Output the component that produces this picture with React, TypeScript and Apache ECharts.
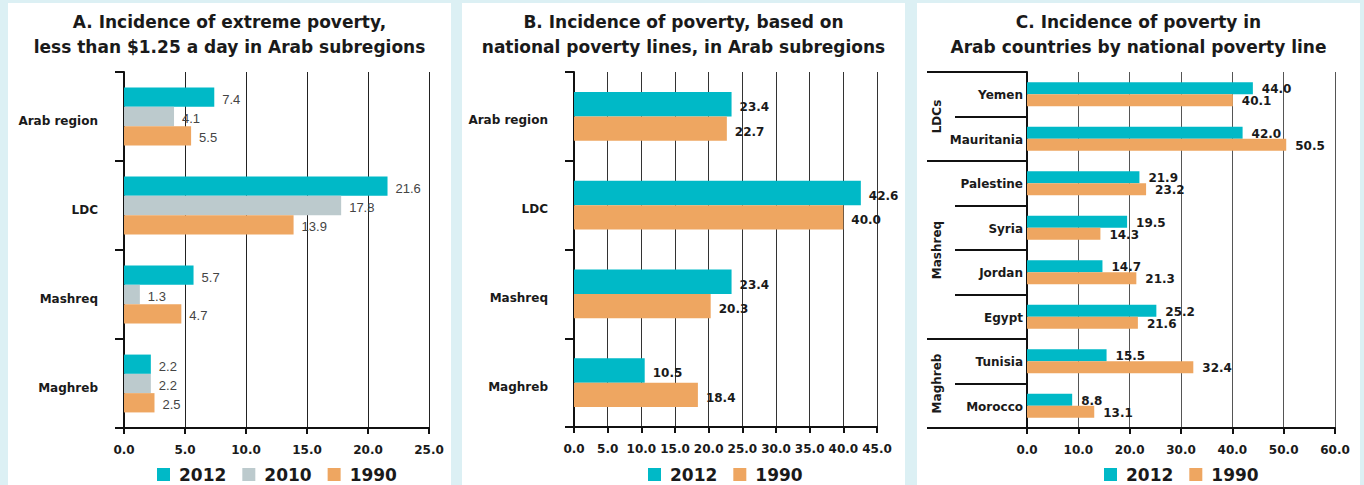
import React, { useEffect, useRef } from "react";
import * as echarts from "echarts";

// ---------- data ----------
const seriesNames = ["2012", "2010", "1990"];

const catsA = ["Arab region", "LDC", "Mashreq", "Maghreb"];
const a2012 = [7.4, 21.6, 5.7, 2.2];
const a2010 = [4.1, 17.8, 1.3, 2.2];
const a1990 = [5.5, 13.9, 4.7, 2.5];
const ticksA = { max: 25, step: 5 };

const catsB = ["Arab region", "LDC", "Mashreq", "Maghreb"];
const b2012 = [23.4, 42.6, 23.4, 10.5];
const b1990 = [22.7, 40.0, 20.3, 18.4];
const ticksB = { max: 45, step: 5 };

const catsC = ["Yemen", "Mauritania", "Palestine", "Syria", "Jordan", "Egypt", "Tunisia", "Morocco"];
const c2012 = [44.0, 42.0, 21.9, 19.5, 14.7, 25.2, 15.5, 8.8];
const c1990 = [40.1, 50.5, 23.2, 14.3, 21.3, 21.6, 32.4, 13.1];
const groupNamesC = ["LDCs", "Mashreq", "Maghreb"];
const groupSizesC = [2, 4, 2];
const ticksC = { max: 60, step: 10 };

const titles = [
  "A. Incidence of extreme poverty,\nless than $1.25 a day in Arab subregions",
  "B. Incidence of poverty, based on\nnational poverty lines, in Arab subregions",
  "C. Incidence of poverty in\nArab countries by national poverty line",
];

// ---------- style ----------
const FONT = "DejaVu Sans, Verdana, sans-serif";
const NARROW = "Liberation Sans Narrow, Arial Narrow, sans-serif";
const TEAL = "#00b9c7";
const GRAY = "#bccacd";
const ORANGE = "#eea661";
const INK = "#1a1a1a";
const colorOf: Record<string, string> = { "2012": TEAL, "2010": GRAY, "1990": ORANGE };

const W = 1364;
const H = 485;
const panels = [
  { x: 8, w: 443, cx: 229.5 },
  { x: 462, w: 443, cx: 683.5 },
  { x: 917, w: 443, cx: 1138.5 },
];
const grids = [
  { left: 124, top: 72, width: 305, height: 356 },
  { left: 574, top: 72, width: 303, height: 355 },
  { left: 1027, top: 72, width: 308, height: 356 },
];
const legendLefts = [157, 648, 1104];

export default function App() {
  const ref = useRef<HTMLDivElement>(null);

  useEffect(() => {
    if (!ref.current) return;
    const chart = echarts.init(ref.current, null, { renderer: "svg" });

    const catText = { fontFamily: FONT, fontWeight: "bold", fontSize: 12, color: INK };

    const yAxisBase = (gi: number, data: string[], tickLen: number, margin: number, padTop: number) => ({
      type: "category",
      gridIndex: gi,
      data,
      inverse: true,
      axisLine: { show: true, lineStyle: { color: "#111", width: 2 } },
      axisTick: { show: true, length: tickLen, lineStyle: { color: "#111", width: 2 } },
      axisLabel: {
        margin,
        ...catText,
        formatter: (v: string) => `{c|${v}}`,
        rich: { c: { ...catText, padding: [padTop, 0, 0, 0] } },
      },
      splitLine: { show: false },
    });

    const xAxisBase = (gi: number, t: { max: number; step: number }, gridColor: string) => ({
      type: "value",
      gridIndex: gi,
      min: 0,
      max: t.max,
      interval: t.step,
      axisLine: { show: true, onZero: false, lineStyle: { color: "#111", width: 2 } },
      axisTick: { show: true, length: 6, lineStyle: { color: "#111", width: 2 } },
      splitLine: { show: true, lineStyle: { color: gridColor, width: 1 } },
      axisLabel: {
        margin: 16,
        fontFamily: FONT,
        fontWeight: "bold",
        fontSize: 12,
        color: INK,
        formatter: (v: number) => v.toFixed(1),
      },
    });

    const fmt = (p: any) => Number(p.value).toFixed(1);

    const barSeries = (name: string, data: number[], gi: number, gap: string, label: any) => ({
      type: "bar",
      name,
      data,
      xAxisIndex: gi,
      yAxisIndex: gi,
      barGap: "0%",
      barCategoryGap: gap,
      itemStyle: { color: colorOf[name] },
      label: { show: true, position: "right", formatter: fmt, ...label },
    });

    const labelA = { distance: 8, offset: [0, 2], fontFamily: NARROW, fontSize: 13, color: "#444" };
    const labelB = { distance: 8, offset: [0, 3], fontFamily: FONT, fontWeight: "bold", fontSize: 12, color: INK };
    const labelC = { distance: 9, offset: [0, 1], fontFamily: FONT, fontWeight: "bold", fontSize: 12, color: INK };

    // panel C group decorations derived from grid layout
    const gC = grids[2];
    const bandC = gC.height / catsC.length;
    const bounds: number[] = [0];
    groupSizesC.forEach((s) => bounds.push(bounds[bounds.length - 1] + s));
    const groupGraphics: any[] = [];
    bounds.forEach((b) => {
      const y = gC.top + b * bandC;
      groupGraphics.push({
        type: "line",
        silent: true,
        shape: { x1: 927, y1: y, x2: gC.left, y2: y },
        style: { stroke: "#111", lineWidth: 2 },
        z: 10,
      });
    });
    groupNamesC.forEach((name, i) => {
      const yMid = gC.top + ((bounds[i] + bounds[i + 1]) / 2) * bandC;
      groupGraphics.push({
        type: "text",
        silent: true,
        x: 937,
        y: yMid,
        rotation: Math.PI / 2,
        style: {
          text: name,
          fontFamily: FONT,
          fontWeight: "bold",
          fontSize: 12,
          fill: INK,
          textAlign: "center",
          textVerticalAlign: "middle",
        },
        z: 10,
      });
    });

    const option: any = {
      animation: false,
      backgroundColor: "#dcf0f4",
      title: titles.map((t, i) => ({
        text: t,
        left: panels[i].cx,
        top: 9,
        padding: 0,
        textAlign: "center",
        textStyle: { fontFamily: FONT, fontWeight: "bold", fontSize: 17, lineHeight: 25, color: INK },
      })),
      legend: [
        ["2012", "2010", "1990"],
        ["2012", "1990"],
        ["2012", "1990"],
      ].map((d, i) => ({
        data: d,
        left: legendLefts[i],
        top: 466,
        orient: "horizontal",
        icon: "rect",
        itemWidth: 13,
        itemHeight: 13,
        itemGap: 16,
        padding: 0,
        selectedMode: false,
        textStyle: { fontFamily: FONT, fontWeight: "bold", fontSize: 17, color: INK, padding: [0, 0, 0, 4] },
      })),
      grid: grids.map((g) => ({ ...g, containLabel: false, outerBoundsMode: "none" })),
      xAxis: [xAxisBase(0, ticksA, "#222"), xAxisBase(1, ticksB, "#333"), xAxisBase(2, ticksC, "#555")],
      yAxis: [
        yAxisBase(0, catsA, 9, 26, 8),
        yAxisBase(1, catsB, 9, 26, 8),
        yAxisBase(2, catsC, 72, 4, 2),
      ],
      series: [
        barSeries(seriesNames[0], a2012, 0, "35%", labelA),
        barSeries(seriesNames[1], a2010, 0, "35%", labelA),
        barSeries(seriesNames[2], a1990, 0, "35%", labelA),
        barSeries(seriesNames[0], b2012, 1, "45%", labelB),
        barSeries(seriesNames[2], b1990, 1, "45%", labelB),
        barSeries(seriesNames[0], c2012, 2, "46%", labelC),
        barSeries(seriesNames[2], c1990, 2, "46%", labelC),
      ],
      graphic: [
        ...panels.map((p) => ({
          type: "rect",
          silent: true,
          z: -10,
          shape: { x: p.x, y: 3, width: p.w, height: H - 3 },
          style: { fill: "#ffffff" },
        })),
        ...groupGraphics,
      ],
    };

    chart.setOption(option);
    return () => chart.dispose();
  }, []);

  return <div ref={ref} style={{ position: "absolute", left: 0, top: 0, width: W, height: H }} />;
}
